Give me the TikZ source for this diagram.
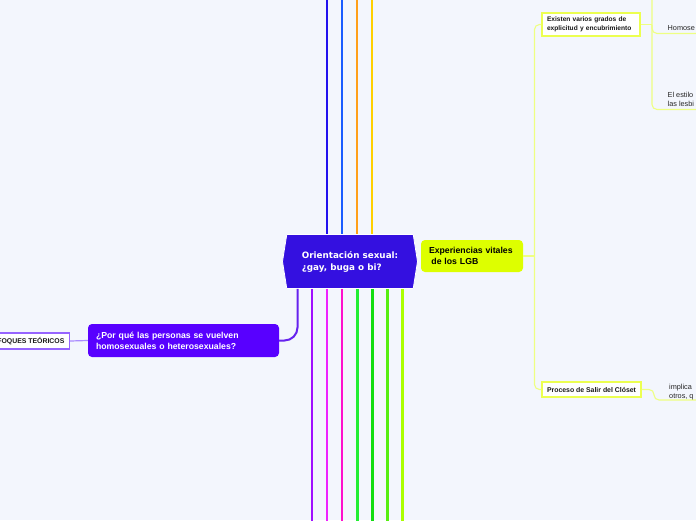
\documentclass[tikz,border=0pt]{standalone}
\usepackage{fontspec}
\setmainfont{Liberation Sans}
\newfontfamily\dvs{DejaVu Sans}
\usetikzlibrary{shapes.symbols}
\definecolor{bg}{RGB}{243,246,253}
\definecolor{cmain}{RGB}{52,16,224}
\definecolor{cleft}{RGB}{88,0,255}
\definecolor{cright}{RGB}{221,255,0}
\definecolor{yconn}{RGB}{238,255,130}
\definecolor{yborder}{RGB}{236,255,80}
\definecolor{pconn}{RGB}{102,34,238}
\definecolor{pthin}{RGB}{170,140,255}
\definecolor{pborder}{RGB}{150,100,255}
\definecolor{ta}{RGB}{34,17,238}
\definecolor{tb}{RGB}{26,92,255}
\definecolor{tc}{RGB}{255,159,26}
\definecolor{td}{RGB}{255,208,0}
\definecolor{ba}{RGB}{160,16,255}
\definecolor{bb}{RGB}{238,34,255}
\definecolor{bc}{RGB}{255,16,204}
\definecolor{bd}{RGB}{34,238,51}
\definecolor{be}{RGB}{17,221,17}
\definecolor{bf}{RGB}{85,238,17}
\definecolor{bh}{RGB}{170,255,0}
\tikzset{
  centralbox/.style={shape=signal, signal to=west and east, signal pointer angle=162,
    fill=cmain, draw=white, line width=0.8pt, minimum width=135pt, minimum height=54pt,
    inner sep=0pt, text=white, font=\dvs\bfseries\fontsize{8.8}{12}\selectfont, align=left},
  bigbox/.style={rectangle, rounded corners=4pt, inner ysep=0pt, align=left,
    font=\bfseries\fontsize{8.7}{11}\selectfont},
  smallbox/.style={rectangle, fill=white, draw=yborder, line width=1.3pt, inner xsep=5pt,
    inner ysep=0pt, align=left, text=black!90, font=\bfseries\fontsize{6.6}{9}\selectfont},
  leaftext/.style={inner sep=0pt, align=left, text=black!85, font=\fontsize{7.3}{9}\selectfont},
  branch/.style={line width=2.4pt},
  yline/.style={draw=yconn, line width=1.1pt, rounded corners=5pt},
}
\begin{document}
\begin{tikzpicture}[x=1pt,y=-1pt]
\fill[bg] (0,0) rectangle (696,520);
\useasboundingbox (0,0) rectangle (696,520);

% central node
\node[centralbox] (central) at (350,261.5) {Orientación sexual:\\¿gay, buga o bi?};

% top branches
\coordinate (t1) at (327,-2);
\coordinate (t2) at (342,-2);
\coordinate (t3) at (357,-2);
\coordinate (t4) at (372,-2);
\draw[branch, ta] (t1) -- (t1 |- central.north);
\draw[branch, tb] (t2) -- (t2 |- central.north);
\draw[branch, tc] (t3) -- (t3 |- central.north);
\draw[branch, td] (t4) -- (t4 |- central.north);

% bottom branches
\coordinate (b2) at (312,522);
\coordinate (b3) at (327,522);
\coordinate (b4) at (342,522);
\coordinate (b5) at (357.5,522);
\coordinate (b6) at (372.5,522);
\coordinate (b7) at (387.5,522);
\coordinate (b8) at (402.5,522);
\draw[branch, ba] (b2 |- central.south) -- (b2);
\draw[branch, bb] (b3 |- central.south) -- (b3);
\draw[branch, bc] (b4 |- central.south) -- (b4);
\draw[branch, bd] (b5 |- central.south) -- (b5);
\draw[branch, be] (b6 |- central.south) -- (b6);
\draw[branch, bf] (b7 |- central.south) -- (b7);
\draw[branch, bh] (b8 |- central.south) -- (b8);

% left node
\node[bigbox, fill=cleft, text=white, inner xsep=8pt, text width=175pt, minimum height=33pt]
  (why) at (183.5,340.5) {¿Por qué las personas se vuelven\\homosexuales o heterosexuales?};
\coordinate (lk) at (297.5,0);
\draw[pconn, line width=2pt, rounded corners=13pt] (lk |- central.south) |- (why.east);

\node[smallbox, draw=pborder, line width=1.1pt, anchor=east, minimum height=16pt, inner xsep=5pt,
  font=\bfseries\fontsize{6.9}{9}\selectfont]
  (enf) at (70,341) {ENFOQUES TEÓRICOS};
\draw[pthin, line width=1.2pt] (why.west) -- (enf.east);

% right node
\node[bigbox, fill=cright, text=black, inner xsep=8pt, text width=86pt, minimum height=32pt]
  (exp) at (472,256) {Experiencias vitales\\\hspace{0.28em}de los LGB};

\node[smallbox, text width=88pt, minimum height=23pt] (exi) at (591,24.5)
  {Existen varios grados de\\explicitud y encubrimiento};
\node[smallbox, inner xsep=2pt, minimum width=99pt, minimum height=15pt,
  font=\bfseries\fontsize{6.9}{9}\selectfont]
  (pro) at (591.5,389.5) {Proceso de Salir del Clóset};

\coordinate (spine) at (534.5,256);
\draw[yline] (exp.east) -- (spine);
\draw[yline] (exi.west) -| (spine) |- (pro.west);

% leaves of "Existen..."
\coordinate (hub) at (652,24.5);
\coordinate (ua) at (700,-30);
\coordinate (ub) at (700,33.5);
\coordinate (uc) at (700,109.5);
\draw[yline] (exi.east) -- (hub);
\draw[yline] (hub) |- (ua);
\draw[yline] (hub) |- (ub);
\draw[yline] (hub) |- (uc);
\node[leaftext, anchor=base west] (la) at (667.5,30) {Homose};
\node[leaftext, anchor=base west] (lb) at (667.5,106) {El estilo\\las lesbi};

% leaf of "Proceso..."
\coordinate (hp) at (654,400);
\coordinate (ud) at (700,400);
\draw[yline] (pro.east) -| (hp) -- (ud);
\node[leaftext, anchor=base west] (ld) at (669,398) {implica\\otros, q};
\end{tikzpicture}
\end{document}
